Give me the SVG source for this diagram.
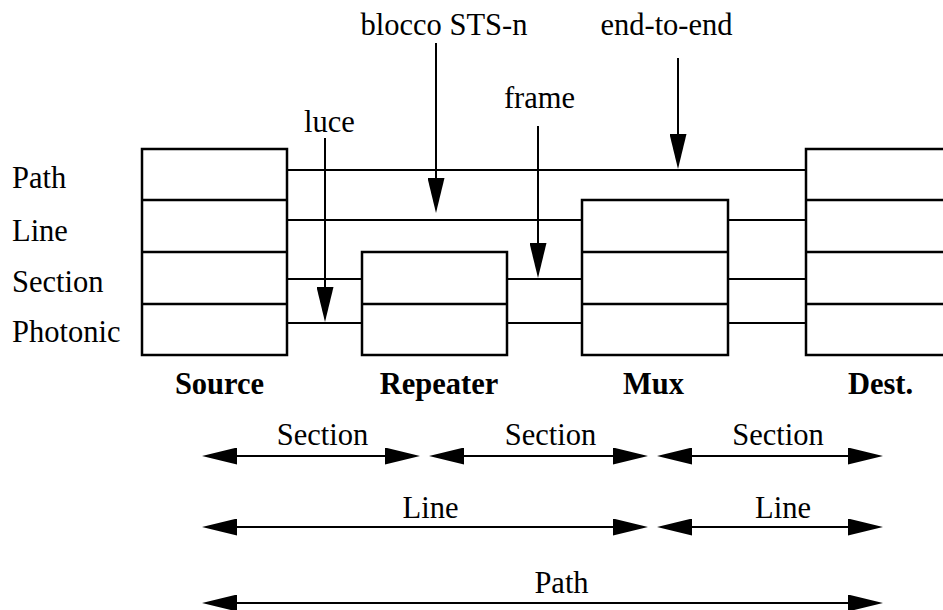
<svg xmlns="http://www.w3.org/2000/svg" width="943" height="610" viewBox="0 0 943 610">
<style>
  .box { fill: #fff; stroke: #000; stroke-width: 2.5; }
  .row { stroke: #000; stroke-width: 2.5; fill: none; }
  .wire { stroke: #000; stroke-width: 2; fill: none; }
  .arr { stroke: #000; stroke-width: 2; fill: none; marker-end: url(#ah); }
  .darr { stroke: #000; stroke-width: 2; fill: none; marker-end: url(#ah); marker-start: url(#ah); }
  text { font-family: 'Liberation Serif', 'Times New Roman', serif; font-size: 30.5px; fill: #000; }
  .b { font-weight: bold; text-anchor: middle; }
  .m { text-anchor: middle; }
</style>
<defs>
  <marker id="ah" viewBox="0 0 35 17" markerWidth="35" markerHeight="17" refX="25" refY="8.5" orient="auto-start-reverse" markerUnits="userSpaceOnUse">
    <path d="M0,0 L35,8.5 L0,17 Z" fill="#000"/>
  </marker>
</defs>

<g id="layer-labels">
  <text x="12" y="188">Path</text>
  <text x="12" y="241">Line</text>
  <text x="12" y="292">Section</text>
  <text x="12" y="342">Photonic</text>
</g>

<g id="connectors">
  <line class="wire" x1="287" y1="170" x2="806" y2="170"/>
  <line class="wire" x1="287" y1="220" x2="582" y2="220"/>
  <line class="wire" x1="728" y1="220" x2="806" y2="220"/>
  <line class="wire" x1="287" y1="279" x2="362" y2="279"/>
  <line class="wire" x1="507" y1="279" x2="582" y2="279"/>
  <line class="wire" x1="728" y1="279" x2="806" y2="279"/>
  <line class="wire" x1="287" y1="323" x2="362" y2="323"/>
  <line class="wire" x1="507" y1="323" x2="582" y2="323"/>
  <line class="wire" x1="728" y1="323" x2="806" y2="323"/>
</g>

<g id="node-source">
  <rect class="box" x="142" y="149" width="145" height="206"/>
  <line class="row" x1="142" y1="200" x2="287" y2="200"/>
  <line class="row" x1="142" y1="252" x2="287" y2="252"/>
  <line class="row" x1="142" y1="304" x2="287" y2="304"/>
  <text class="b" x="219.5" y="394">Source</text>
</g>

<g id="node-repeater">
  <rect class="box" x="362" y="252" width="145" height="103"/>
  <line class="row" x1="362" y1="304" x2="507" y2="304"/>
  <text class="b" x="439" y="394">Repeater</text>
</g>

<g id="node-mux">
  <rect class="box" x="582" y="200" width="146" height="155"/>
  <line class="row" x1="582" y1="252" x2="728" y2="252"/>
  <line class="row" x1="582" y1="304" x2="728" y2="304"/>
  <text class="b" x="653.5" y="394">Mux</text>
</g>

<g id="node-dest">
  <rect class="box" x="806" y="149" width="145" height="206"/>
  <line class="row" x1="806" y1="200" x2="951" y2="200"/>
  <line class="row" x1="806" y1="252" x2="951" y2="252"/>
  <line class="row" x1="806" y1="304" x2="951" y2="304"/>
  <text class="b" x="880.5" y="394">Dest.</text>
</g>

<g id="pointers">
  <text class="m" x="444" y="35">blocco STS-n</text>
  <line class="arr" x1="436" y1="43" x2="436" y2="203"/>
  <text class="m" x="666.5" y="35">end-to-end</text>
  <line class="arr" x1="678" y1="58" x2="678" y2="159"/>
  <text class="m" x="539.5" y="108">frame</text>
  <line class="arr" x1="538" y1="126" x2="538" y2="268"/>
  <text class="m" x="329.5" y="132">luce</text>
  <line class="arr" x1="325" y1="138" x2="325" y2="312"/>
</g>

<g id="spans">
  <text class="m" x="322.5" y="445">Section</text>
  <line class="darr" x1="212" y1="456" x2="410" y2="456"/>
  <text class="m" x="550.5" y="445">Section</text>
  <line class="darr" x1="439" y1="456" x2="638" y2="456"/>
  <text class="m" x="778" y="445">Section</text>
  <line class="darr" x1="667" y1="456" x2="873" y2="456"/>

  <text class="m" x="430.5" y="518">Line</text>
  <line class="darr" x1="212" y1="527" x2="638" y2="527"/>
  <text class="m" x="783" y="518">Line</text>
  <line class="darr" x1="667" y1="527" x2="873" y2="527"/>

  <text class="m" x="561.5" y="593">Path</text>
  <line class="darr" x1="212" y1="603" x2="873" y2="603"/>
</g>
</svg>
